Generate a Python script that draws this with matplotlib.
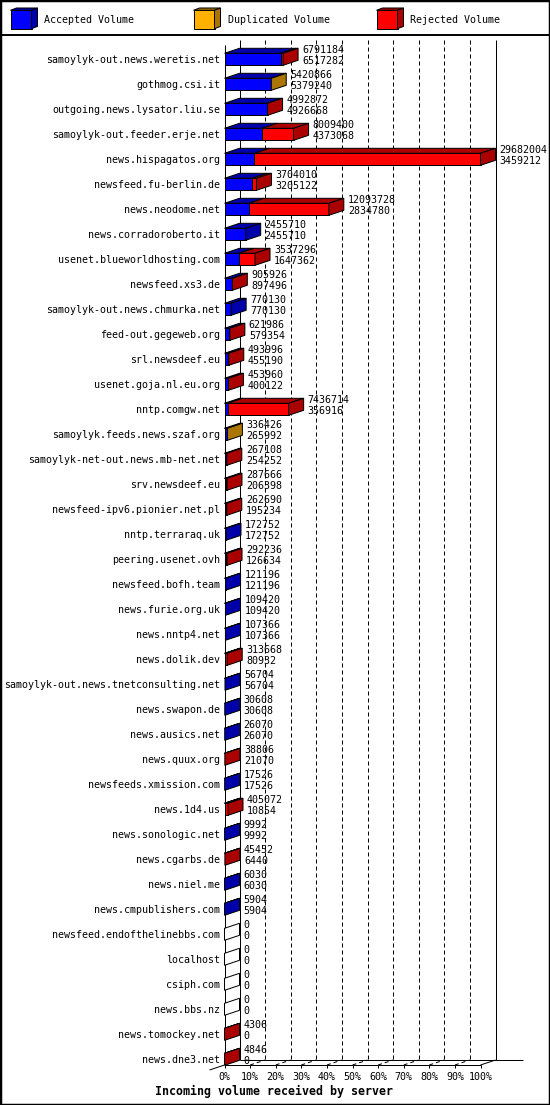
import matplotlib
matplotlib.use("Agg")
import matplotlib.pyplot as plt
from matplotlib.patches import Polygon, Rectangle
from matplotlib.lines import Line2D

plt.rcParams['font.family'] = ['DejaVu Sans Mono', 'DejaVu Sans']

# data (volumes in bytes)
servers = [
    'samoylyk-out.news.weretis.net', 'gothmog.csi.it', 'outgoing.news.lysator.liu.se',
    'samoylyk-out.feeder.erje.net', 'news.hispagatos.org', 'newsfeed.fu-berlin.de',
    'news.neodome.net', 'news.corradoroberto.it', 'usenet.blueworldhosting.com',
    'newsfeed.xs3.de', 'samoylyk-out.news.chmurka.net', 'feed-out.gegeweb.org',
    'srl.newsdeef.eu', 'usenet.goja.nl.eu.org', 'nntp.comgw.net',
    'samoylyk.feeds.news.szaf.org', 'samoylyk-net-out.news.mb-net.net', 'srv.newsdeef.eu',
    'newsfeed-ipv6.pionier.net.pl', 'nntp.terraraq.uk', 'peering.usenet.ovh',
    'newsfeed.bofh.team', 'news.furie.org.uk', 'news.nntp4.net', 'news.dolik.dev',
    'samoylyk-out.news.tnetconsulting.net', 'news.swapon.de', 'news.ausics.net',
    'news.quux.org', 'newsfeeds.xmission.com', 'news.1d4.us', 'news.sonologic.net',
    'news.cgarbs.de', 'news.niel.me', 'news.cmpublishers.com',
    'newsfeed.endofthelinebbs.com', 'localhost', 'csiph.com', 'news.bbs.nz',
    'news.tomockey.net', 'news.dne3.net',
]
offered = [
    6791184, 5420866, 4992872, 8009400, 29682004, 3704010, 12093728, 2455710,
    3537296, 905926, 770130, 621986, 493996, 453960, 7436714, 336426, 267108,
    287666, 262690, 172752, 292236, 121196, 109420, 107366, 313668, 56704,
    30608, 26070, 38806, 17526, 405072, 9992, 45452, 6030, 5904, 0, 0, 0, 0,
    4306, 4846,
]
accepted = [
    6517282, 5379240, 4926668, 4373068, 3459212, 3205122, 2834780, 2455710,
    1647362, 897496, 770130, 579354, 455190, 400122, 356916, 265992, 254252,
    206398, 195234, 172752, 126634, 121196, 109420, 107366, 80932, 56704,
    30608, 26070, 21070, 17526, 10854, 9992, 6440, 6030, 5904, 0, 0, 0, 0,
    0, 0,
]
duplicated = [0, 41626] + [0] * 13 + [70434] + [0] * 25
rejected = [o - a - d for o, a, d in zip(offered, accepted, duplicated)]

tick_pct = list(range(0, 101, 10))
tick_labels = [f"{t}%" for t in tick_pct]
legend_names = ['Accepted Volume', 'Duplicated Volume', 'Rejected Volume']
face_colors = ['#0000ff', '#ffb000', '#ff0000']
dark_colors = ['#0000aa', '#aa7500', '#aa0000']

# layout (pixels)
W, H = 550, 1105
x0_px, x100_px = 224.5, 480.5
row0_px, step_px = 59.3, 25.0
top_px, floor_px = 40, 1065
ppx = (x100_px - x0_px) / 100.0          # pixels per percent
DX = 15 / ppx                            # depth offset, percent units
DY = 5 / step_px                         # depth offset, row units
HALF = 6 / step_px                       # half bar height
LW = 0.72                                # 1 px

fig = plt.figure(figsize=(W / 100, H / 100), dpi=100)
ax = fig.add_axes([x0_px / W, 1 - floor_px / H, (x100_px - x0_px) / W, (floor_px - top_px) / H])
y_floor = (floor_px - row0_px) / step_px
y_top = (top_px - row0_px) / step_px
ax.set_xlim(0, 100)
ax.set_ylim(y_floor, y_top)
for s in ax.spines.values():
    s.set_visible(False)

rows = list(range(len(servers)))
ax.set_yticks(rows)
ax.set_yticklabels(servers, fontsize=7.2)
ax.tick_params(axis='y', length=0, pad=3.2)
ax.set_xticks(tick_pct)
ax.set_xticklabels(tick_labels, fontsize=7.2)
ax.tick_params(axis='x', length=3 * LW, width=LW, pad=3)

kw = dict(color='black', lw=LW, clip_on=False, solid_capstyle='butt')
back_floor = y_floor - DY
# back wall grid
for t in tick_pct[1:-1]:
    ax.plot([t + DX, t + DX], [y_top, back_floor], ls=(0, (4, 3)), **kw)
    ax.plot([t, t + DX], [y_floor, back_floor], ls=(0, (4, 3)), **kw)
ax.plot([DX, DX], [y_top, back_floor], **kw)
ax.plot([100 + DX, 100 + DX], [y_top, back_floor], **kw)
ax.plot([0, 0], [y_top + DY, y_floor], **kw)
# floor
ax.plot([DX, (522.6 - x0_px) / ppx], [back_floor, back_floor], **kw)
ax.plot([0, 100], [y_floor, y_floor], **kw)
ax.plot([100, 100 + DX], [y_floor, back_floor], **kw)
ax.plot([-DX, 0], [y_floor + DY, y_floor], **kw)

scale = 100.0 / max(offered)
for r in rows:
    parts = [accepted[r], duplicated[r], rejected[r]]
    c = r
    top, bot = c - HALF, c + HALF
    x = 0.0
    last = None
    for k, v in enumerate(parts):
        if v <= 0:
            continue
        w = v * scale
        ax.add_patch(Rectangle((x, top), w, 2 * HALF, facecolor=face_colors[k],
                               edgecolor='black', lw=LW, clip_on=False, zorder=3))
        ax.add_patch(Polygon([(x, top), (x + w, top), (x + w + DX, top - DY), (x + DX, top - DY)],
                             closed=True, facecolor=dark_colors[k], edgecolor='black',
                             lw=LW, clip_on=False, zorder=3))
        x += w
        last = k
    side = dark_colors[last] if last is not None else 'white'
    ax.add_patch(Polygon([(x, top), (x + DX, top - DY), (x + DX, bot - DY), (x, bot)],
                         closed=True, facecolor=side, edgecolor='black', lw=LW,
                         clip_on=False, zorder=4))
    tx = offered[r] * scale + DX + 4 / ppx
    ax.text(tx, c - 9 / step_px, str(offered[r]), fontsize=7.2, ha='left', va='center', zorder=5)
    ax.text(tx, c + 2 / step_px, str(accepted[r]), fontsize=7.2, ha='left', va='center', zorder=5)

fig.text(273.7 / W, 1 - 1091.7 / H, 'Incoming volume received by server',
         fontsize=8.4, fontweight='bold', ha='center', va='center')

# legend strip
lg = fig.add_axes([0, 1 - 35 / H, 1, 35 / H])
lg.set_xlim(0, W)
lg.set_ylim(35, 0)
lg.axis('off')
for i, name in enumerate(legend_names):
    lx = 10.5 + i * 183
    lg.add_patch(Rectangle((lx, 10.3), 21, 18.4, facecolor=face_colors[i], edgecolor='black', lw=LW))
    lg.add_patch(Polygon([(lx, 10.3), (lx + 21, 10.3), (lx + 27, 8), (lx + 6, 8)], closed=True,
                         facecolor=dark_colors[i], edgecolor='black', lw=LW))
    lg.add_patch(Polygon([(lx + 21, 10.3), (lx + 27, 8), (lx + 27, 26.4), (lx + 21, 28.7)], closed=True,
                         facecolor=dark_colors[i], edgecolor='black', lw=LW))
    lg.text(lx + 34, 20.3, name, fontsize=7.2, ha='left', va='center')

fig.add_artist(Line2D([0, 1], [1 - 35 / H, 1 - 35 / H], transform=fig.transFigure, color='black', lw=1.4))
fig.add_artist(Rectangle((0, 0), 1, 1, transform=fig.transFigure, fill=False, edgecolor='black', lw=2.5))

fig.savefig('out.png', dpi=100)
